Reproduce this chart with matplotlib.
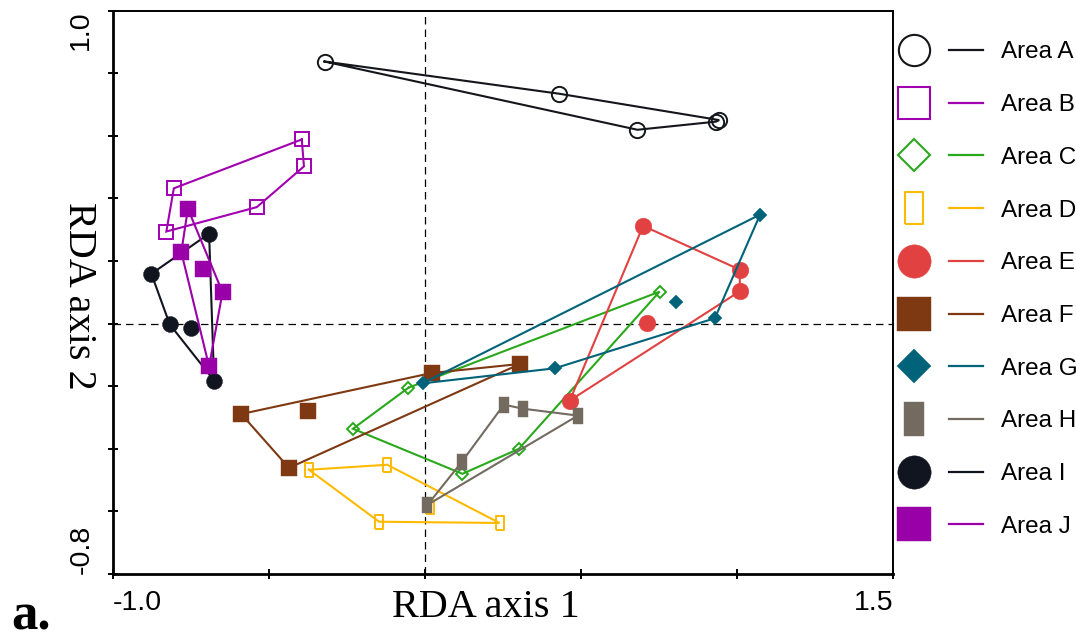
import matplotlib
matplotlib.use("Agg")
import matplotlib.pyplot as plt

# ---------------- data (RDA site scores per area) ----------------
areas = ["Area A", "Area B", "Area C", "Area D", "Area E",
         "Area F", "Area G", "Area H", "Area I", "Area J"]

# points listed along the hull outline first, interior points last
a_x = [-0.322, 0.431, 0.943, 0.933, 0.681]
a_y = [0.837, 0.734, 0.650, 0.645, 0.619]
b_x = [-0.395, -0.388, -0.539, -0.829, -0.805]
b_y = [0.588, 0.502, 0.372, 0.294, 0.432]
c_x = [-0.053, 0.752, 0.301, 0.120, -0.231]
c_y = [-0.205, 0.102, -0.400, -0.480, -0.336]
d_x = [-0.372, -0.121, 0.239, -0.147, 0.016]
d_y = [-0.467, -0.451, -0.637, -0.633, -0.587]
e_x = [0.699, 1.009, 1.009, 0.464, 0.711]
e_y = [0.312, 0.172, 0.103, -0.246, 0.001]
f_x = [-0.589, 0.021, 0.305, -0.436, -0.375]
f_y = [-0.289, -0.158, -0.129, -0.461, -0.278]
g_x = [1.074, 0.929, 0.416, -0.008, 0.804]
g_y = [0.348, 0.017, -0.143, -0.191, 0.068]
h_x = [0.253, 0.314, 0.490, 0.008, 0.117]
h_y = [-0.259, -0.272, -0.294, -0.579, -0.443]
i_x = [-0.692, -0.877, -0.818, -0.676, -0.751]
i_y = [0.287, 0.159, -0.003, -0.182, -0.014]
j_x = [-0.760, -0.781, -0.692, -0.649, -0.712]
j_y = [0.367, 0.228, -0.137, 0.100, 0.173]
hull_n = [5, 5, 5, 4, 4, 4, 4, 5, 4, 4]

all_x = [a_x, b_x, c_x, d_x, e_x, f_x, g_x, h_x, i_x, j_x]
all_y = [a_y, b_y, c_y, d_y, e_y, f_y, g_y, h_y, i_y, j_y]

x_ticks = [-1.0, -0.5, 0.0, 0.5, 1.0, 1.5]
x_ticklabels = ["-1.0", "", "", "", "", "1.5"]
y_ticks = [-0.8, -0.6, -0.4, -0.2, 0.0, 0.2, 0.4, 0.6, 0.8, 1.0]
y_ticklabels = ["-0.8", "", "", "", "", "", "", "", "", "1.0"]

# ---------------- styles ----------------
RECT = [(-0.28, -0.5), (0.28, -0.5), (0.28, 0.5), (-0.28, 0.5), (-0.28, -0.5)]
colors = ["#14161c", "#a000b0", "#2aa81c", "#ffba00", "#e24141",
          "#7e3812", "#00637a", "#736a60", "#11151f", "#9a00a8"]
markers = ["o", "s", "D", RECT, "o", "s", "D", RECT, "o", "s"]
filled = [False, False, False, False, True, True, True, True, True, True]
ms_plot = [11, 10.3, 6.3, 10.3, 12, 12, 7.6, 12.2, 11.5, 11.3]
ms_leg = [22.5, 22.5, 16.2, 23, 24, 24, 17.3, 24.5, 24, 24]

SANS = "Liberation Sans"
SERIF = "Liberation Serif"

W, H = 1076, 639
fig = plt.figure(figsize=(W / 100, H / 100), dpi=100)
ax = fig.add_axes([113 / W, (H - 574) / H, 780 / W, 563.5 / H])
ax.set_xlim(-1.0, 1.5)
ax.set_ylim(-0.8, 1.0)

ax.axvline(0, color="black", lw=0.9, ls=(0, (6, 4)), zorder=1)
ax.axhline(0, color="black", lw=0.9, ls=(0, (6, 4)), zorder=1)

for k in range(len(areas)):
    xs, ys, n = all_x[k], all_y[k], hull_n[k]
    c = colors[k]
    ax.plot(xs[:n] + xs[:1], ys[:n] + ys[:1], color=c, lw=1.5,
            zorder=2 + 2 * k, solid_joinstyle="miter")
    ax.plot(xs, ys, ls="none", marker=markers[k], ms=ms_plot[k],
            mfc=c if filled[k] else "none", mec=c,
            mew=0.3 if filled[k] else 1.4, zorder=3 + 2 * k)

ax.set_xticks(x_ticks)
ax.set_xticklabels(x_ticklabels, fontfamily=SANS, fontsize=20.5)
ax.set_yticks(y_ticks)
ax.set_yticklabels(y_ticklabels, fontfamily=SANS, fontsize=20.5, rotation=90)
xl = ax.get_xticklabels()
xl[0].set_ha("left")
xl[-1].set_ha("right")
yl = ax.get_yticklabels()
yl[0].set_va("bottom")
yl[-1].set_va("top")
for t in yl:
    t.set_ha("right")
ax.tick_params(axis="x", direction="inout", length=7, width=1.4, pad=8)
ax.tick_params(axis="y", direction="inout", length=7, width=1.4, pad=10)

for s in ["left", "bottom"]:
    ax.spines[s].set_linewidth(2.0)
for s in ["top", "right"]:
    ax.spines[s].set_linewidth(1.4)

fig.text(486 / W, 1 - 617 / H, "RDA axis 1", fontfamily=SERIF, fontsize=29,
         ha="center", va="baseline")
fig.text(78 / W, 1 - 296 / H, "RDA axis 2", fontfamily=SERIF, fontsize=29,
         ha="center", va="center", rotation=-90)
fig.text(11 / W, 1 - 630 / H, "a.", fontfamily=SERIF, fontsize=38,
         fontweight="bold", ha="left", va="baseline")

# ---------------- legend (drawn in pixel space on the right) ----------------
lax = fig.add_axes([895 / W, 0, (W - 895) / W, 1])
lax.set_xlim(895, W)
lax.set_ylim(H, 0)
lax.axis("off")
row0, step = 50, 52.7
for k, name in enumerate(areas):
    yk = row0 + k * step
    c = colors[k]
    lax.plot([914], [yk], ls="none", marker=markers[k], ms=ms_leg[k],
             mfc=c if filled[k] else "none", mec=c,
             mew=0.3 if filled[k] else 1.5)
    lax.plot([949, 983], [yk, yk], color=c, lw=1.6)
    lax.text(1001, yk + 8.5, name, fontfamily=SANS, fontsize=17.5,
             ha="left", va="baseline")

fig.savefig("out.png", dpi=100)
